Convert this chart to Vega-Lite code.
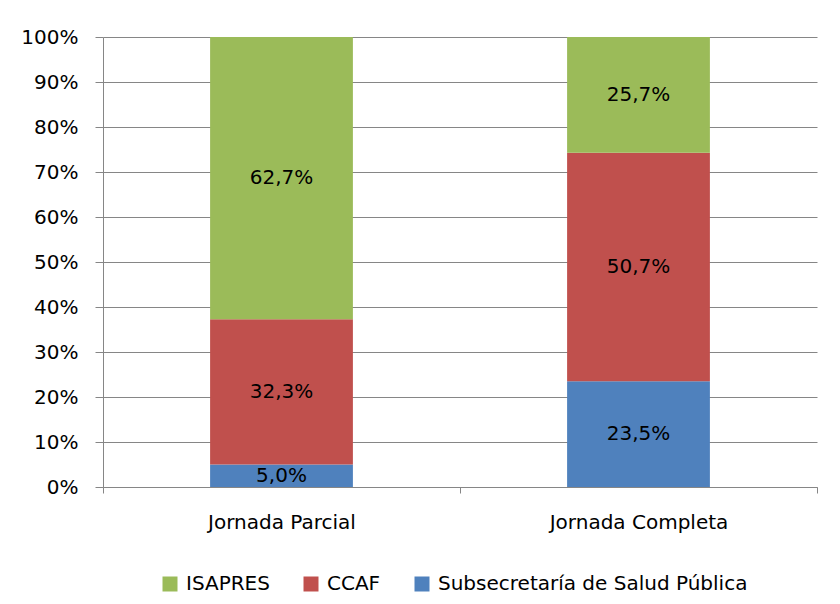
{
  "$schema": "https://vega.github.io/schema/vega-lite/v6.json",
  "width": 714,
  "height": 450,
  "autosize": {"type": "none"},
  "padding": {"left": 103, "top": 37, "right": 23, "bottom": 117},
  "background": "white",
  "config": {"view": {"stroke": null}, "font": "DejaVu Sans"},
  "data": {
    "values": [
      {"jornada": "Jornada Parcial", "entidad": "Subsecretaría de Salud Pública", "orden": 1, "valor": 5.0, "etiqueta": "5,0%"},
      {"jornada": "Jornada Parcial", "entidad": "CCAF", "orden": 2, "valor": 32.3, "etiqueta": "32,3%"},
      {"jornada": "Jornada Parcial", "entidad": "ISAPRES", "orden": 3, "valor": 62.7, "etiqueta": "62,7%"},
      {"jornada": "Jornada Completa", "entidad": "Subsecretaría de Salud Pública", "orden": 1, "valor": 23.5, "etiqueta": "23,5%"},
      {"jornada": "Jornada Completa", "entidad": "CCAF", "orden": 2, "valor": 50.7, "etiqueta": "50,7%"},
      {"jornada": "Jornada Completa", "entidad": "ISAPRES", "orden": 3, "valor": 25.7, "etiqueta": "25,7%"}
    ]
  },
  "encoding": {
    "x": {
      "field": "jornada",
      "type": "nominal",
      "sort": ["Jornada Parcial", "Jornada Completa"],
      "scale": {"paddingInner": 0, "paddingOuter": 0},
      "axis": {
        "title": null,
        "labelAngle": 0,
        "labelFontSize": 20,
        "labelColor": "#000000",
        "domainColor": "#868686",
        "tickColor": "#868686",
        "tickBand": "extent",
        "tickSize": 6,
        "labelPadding": 19
      }
    }
  },
  "layer": [
    {
      "mark": {"type": "bar", "width": {"band": 0.4}},
      "encoding": {
        "y": {
          "field": "valor",
          "type": "quantitative",
          "stack": "normalize",
          "scale": {"domain": [0, 1]},
          "axis": {
            "title": null,
            "format": ".0%",
            "values": [0, 0.1, 0.2, 0.3, 0.4, 0.5, 0.6, 0.7, 0.8, 0.9, 1],
            "labelFontSize": 20,
            "labelColor": "#000000",
            "domainColor": "#868686",
            "tickColor": "#868686",
            "gridColor": "#868686",
            "grid": true,
            "tickSize": 8,
            "labelPadding": 17
          }
        },
        "color": {
          "field": "entidad",
          "type": "nominal",
          "scale": {
            "domain": ["ISAPRES", "CCAF", "Subsecretaría de Salud Pública"],
            "range": ["#9BBB59", "#C0504D", "#4F81BD"]
          },
          "legend": {
            "title": null,
            "orient": "none",
            "direction": "horizontal",
            "legendX": 57,
            "legendY": 537,
            "symbolType": "square",
            "symbolSize": 225,
            "symbolStrokeWidth": 0,
            "symbolOpacity": 1,
            "labelFontSize": 20,
            "labelColor": "#000000",
            "labelOffset": 6,
            "labelLimit": 500,
            "columnPadding": 31
          }
        },
        "order": {"field": "orden", "type": "quantitative"}
      }
    },
    {
      "mark": {"type": "text", "fontSize": 20, "color": "#000000"},
      "encoding": {
        "y": {"field": "valor", "type": "quantitative", "stack": "normalize", "bandPosition": 0.5},
        "detail": {"field": "entidad"},
        "order": {"field": "orden", "type": "quantitative"},
        "text": {"field": "etiqueta"}
      }
    }
  ]
}
